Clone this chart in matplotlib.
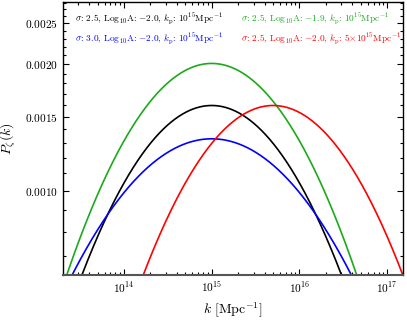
import numpy as np
import matplotlib
matplotlib.use("Agg")
import matplotlib.pyplot as plt
from matplotlib.ticker import FixedLocator, FixedFormatter, LogLocator, NullFormatter

# Model parameters (log-normal peaked spectra)
sigma = [2.5, 3.0, 2.5, 2.5]
log10A = [-2.0, -2.0, -1.9, -2.0]
kp = [1e15, 1e15, 1e15, 5e15]
colors = ["black", "blue", "#1aaa1a", "red"]
labels = [
    r"$\sigma$: 2.5, Log$_{10}$A: $-$2.0, $k_{\rm p}$: $10^{15}$Mpc$^{-1}$",
    r"$\sigma$: 3.0, Log$_{10}$A: $-$2.0, $k_{\rm p}$: $10^{15}$Mpc$^{-1}$",
    r"$\sigma$: 2.5, Log$_{10}$A: $-$1.9, $k_{\rm p}$: $10^{15}$Mpc$^{-1}$",
    r"$\sigma$: 2.5, Log$_{10}$A: $-$2.0, $k_{\rm p}$: $5{\times}10^{15}$Mpc$^{-1}$",
]
yticks = [0.0010, 0.0015, 0.0020, 0.0025]
yticklabels = ["0.0010", "0.0015", "0.0020", "0.0025"]
xticks = [1e14, 1e15, 1e16, 1e17]

plt.rcParams["mathtext.fontset"] = "cm"
plt.rcParams["font.family"] = "serif"
plt.rcParams["font.serif"] = ["cmr10", "DejaVu Serif"]
plt.rcParams["axes.unicode_minus"] = False
plt.rcParams["axes.formatter.use_mathtext"] = True

fig = plt.figure(figsize=(4.07, 3.2), dpi=100)
ax = fig.add_axes([63/407, 1-275/320, (403-63)/407, (275-2)/320])

k = np.logspace(13, 18, 2000)
for s, la, p, c, lab in zip(sigma, log10A, kp, colors, labels):
    P = 10**la / (np.sqrt(2*np.pi)*s) * np.exp(-np.log(k/p)**2 / (2*s**2))
    ax.plot(k, P, color=c, lw=1.2, label=lab)

ax.set_xscale("log")
ax.set_yscale("log")
ax.set_xlim(10**13.305, 10**17.18)
ax.set_ylim(10**-3.2, 10**-2.551)

ax.yaxis.set_major_locator(FixedLocator(yticks))
ax.yaxis.set_major_formatter(FixedFormatter([r"$\mathbf{%s}$" % t for t in yticklabels]))
ax.yaxis.set_minor_locator(FixedLocator(np.arange(0.0006, 0.0029, 0.0001)))
ax.yaxis.set_minor_formatter(NullFormatter())
ax.xaxis.set_major_locator(FixedLocator(xticks))
ax.xaxis.set_major_formatter(FixedFormatter([r"$\mathbf{10^{%d}}$" % int(np.log10(t)) for t in xticks]))
ax.xaxis.set_minor_locator(LogLocator(base=10, subs=np.arange(2, 10), numticks=20))
ax.xaxis.set_minor_formatter(NullFormatter())

ax.tick_params(which="both", direction="in", top=True, right=True, labelsize=8.2, width=0.8)
ax.tick_params(which="major", length=4)
ax.tick_params(which="minor", length=2)
for sp in ax.spines.values():
    sp.set_linewidth(1.0)
ax.spines["bottom"].set_color("#555555")
ax.spines["bottom"].set_linewidth(1.5)

ax.set_xlabel(r"$k\ [\mathrm{Mpc}^{-1}]$", fontsize=10, labelpad=4)
ax.set_ylabel(r"$P_{\zeta}(k)$", fontsize=10, labelpad=5)

leg = ax.legend(loc="upper left", bbox_to_anchor=(0.008, 1.0), ncol=2, frameon=False,
                handlelength=0, handletextpad=0, labelcolor="linecolor",
                fontsize=6.7, columnspacing=1.9, borderaxespad=0.6, labelspacing=0.55)
for h in leg.legend_handles:
    h.set_visible(False)

fig.savefig("out.png", dpi=100)
